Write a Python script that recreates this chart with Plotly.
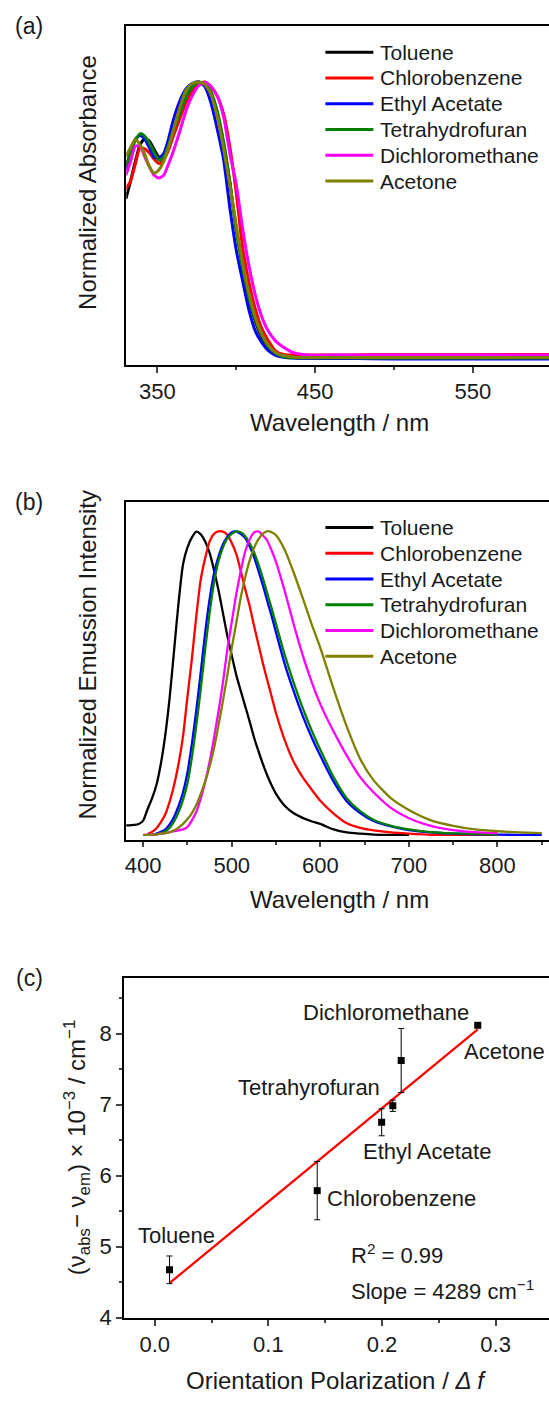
import numpy as np
import plotly.graph_objects as go

W, H = 549, 1405
FONT = "Arial, Liberation Sans, sans-serif"

solvents = ["Toluene", "Chlorobenzene", "Ethyl Acetate", "Tetrahydrofuran",
            "Dichloromethane", "Acetone"]
colors = ["#000000", "#FF0000", "#0000FF", "#008000", "#FF00FF", "#808000"]

# ---------------- (a) normalized absorbance ----------------
abs_nm = [330, 333, 336, 339, 342, 345, 348, 351, 354, 357, 360, 364, 368, 372,
          376, 380, 384, 388, 392, 396, 400, 404, 408, 412, 416, 420, 425, 430,
          436, 445, 470, 500, 550, 600]
abs_toluene = [0.575, 0.64, 0.71, 0.77, 0.792, 0.782, 0.752, 0.726, 0.732, 0.766,
               0.815, 0.88, 0.94, 0.977, 0.995, 0.99, 0.955, 0.88, 0.77, 0.63,
               0.465, 0.33, 0.215, 0.135, 0.078, 0.042, 0.018, 0.007, 0.003,
               0.001, 0.0, 0.0, 0.001, 0.001]
abs_chlorobenzene = [0.61, 0.64, 0.70, 0.76, 0.755, 0.74, 0.718, 0.702, 0.715,
                     0.75, 0.80, 0.86, 0.92, 0.96, 0.988, 0.996, 0.978, 0.945,
                     0.88, 0.76, 0.595, 0.40, 0.275, 0.18, 0.11, 0.067, 0.026,
                     0.014, 0.012, 0.012, 0.012, 0.013, 0.013, 0.014]
abs_ethyl_acetate = [0.68, 0.745, 0.79, 0.803, 0.79, 0.758, 0.725, 0.722, 0.738,
                     0.79, 0.858, 0.925, 0.97, 0.99, 0.997, 0.98, 0.92, 0.825,
                     0.715, 0.54, 0.39, 0.28, 0.175, 0.10, 0.058, 0.03, 0.011,
                     0.004, 0.001, 0.0, 0.0, -0.002, -0.002, -0.002]
abs_thf = [0.69, 0.745, 0.785, 0.81, 0.80, 0.775, 0.742, 0.714, 0.726, 0.765,
           0.82, 0.88, 0.94, 0.977, 0.996, 0.99, 0.96, 0.89, 0.78, 0.635, 0.46,
           0.33, 0.22, 0.142, 0.085, 0.045, 0.018, 0.006, 0.002, 0.002, 0.002,
           0.001, 0.001, 0.001]
abs_dcm = [0.66, 0.71, 0.765, 0.765, 0.726, 0.69, 0.66, 0.65, 0.66, 0.70, 0.745,
           0.815, 0.89, 0.945, 0.982, 0.995, 0.98, 0.945, 0.87, 0.736, 0.627,
           0.469, 0.335, 0.23, 0.153, 0.101, 0.062, 0.04, 0.021, 0.012, 0.012,
           0.012, 0.012, 0.012]
abs_acetone = [0.726, 0.76, 0.79, 0.77, 0.735, 0.69, 0.668, 0.68, 0.71, 0.76,
               0.82, 0.90, 0.965, 0.99, 0.996, 0.987, 0.95, 0.87, 0.755, 0.62,
               0.48, 0.345, 0.235, 0.15, 0.09, 0.05, 0.02, 0.01, 0.005, 0.003,
               0.003, 0.003, 0.003, 0.003]

# ---------------- (b) normalized emission ----------------
N = None
em_nm = [380, 390, 395, 400, 405, 410, 415, 420, 425, 430, 435, 440, 445, 450,
         455, 460, 465, 470, 475, 480, 485, 490, 495, 500, 505, 510, 515, 520,
         525, 530, 535, 540, 545, 550, 560, 570, 580, 590, 600, 615, 630, 645,
         660, 680, 700, 725, 750, 775, 800, 825, 850]
em_toluene = [0.031, 0.033, 0.036, 0.047, 0.085, 0.12, 0.165, 0.235, 0.33, 0.455,
              0.61, 0.765, 0.89, 0.945, 0.978, 0.997, 0.988, 0.965, 0.927, 0.87,
              0.805, 0.73, 0.655, 0.59, 0.527, 0.475, 0.425, 0.375, 0.322, 0.277,
              0.234, 0.196, 0.163, 0.135, 0.095, 0.071, 0.056, 0.045, 0.036,
              0.018, 0.008, 0.004, 0.001, 0.0, 0.0, N, N, N, N, N, N]
em_chlorobenzene = [N, N, N, N, 0.003, 0.01, 0.022, 0.042, 0.068, 0.11, 0.165,
                    0.235, 0.325, 0.455, 0.58, 0.72, 0.84, 0.91, 0.965, 0.99,
                    0.998, 0.997, 0.987, 0.96, 0.925, 0.87, 0.81, 0.755, 0.69,
                    0.628, 0.566, 0.51, 0.455, 0.40, 0.31, 0.24, 0.19, 0.15,
                    0.112, 0.07, 0.038, 0.023, 0.015, 0.008, 0.004, 0.0, 0.0,
                    0.0, 0.0, N, N]
em_ethyl_acetate = [N, N, N, N, N, 0.0, 0.004, 0.01, 0.018, 0.035, 0.06, 0.095,
                    0.14, 0.205, 0.30, 0.41, 0.535, 0.665, 0.775, 0.86, 0.915,
                    0.955, 0.98, 0.995, 0.998, 0.99, 0.977, 0.95, 0.915, 0.87,
                    0.822, 0.77, 0.72, 0.665, 0.56, 0.472, 0.392, 0.322, 0.26,
                    0.175, 0.11, 0.072, 0.046, 0.028, 0.016, 0.008, 0.004, 0.002,
                    0.001, 0.0, 0.0]
em_thf = [N, N, N, N, N, 0.0, 0.002, 0.006, 0.012, 0.024, 0.045, 0.075, 0.115,
          0.17, 0.255, 0.36, 0.48, 0.61, 0.73, 0.83, 0.90, 0.945, 0.975, 0.99,
          0.998, 0.995, 0.983, 0.96, 0.93, 0.89, 0.845, 0.795, 0.745, 0.693,
          0.59, 0.50, 0.418, 0.345, 0.28, 0.19, 0.12, 0.078, 0.05, 0.03, 0.018,
          0.009, 0.005, 0.003, 0.002, N, N]
em_dcm = [N, N, N, 0.0, 0.0, 0.001, 0.002, 0.004, 0.006, 0.009, 0.012, 0.015,
          0.018, 0.026, 0.048, 0.076, 0.12, 0.175, 0.24, 0.32, 0.405, 0.50, 0.61,
          0.70, 0.79, 0.865, 0.93, 0.97, 0.994, 0.998, 0.985, 0.968, 0.935,
          0.897, 0.80, 0.692, 0.592, 0.505, 0.43, 0.34, 0.26, 0.19, 0.14, 0.088,
          0.055, 0.03, 0.016, 0.009, 0.006, N, N]
em_acetone = [N, N, N, 0.0, 0.0, 0.001, 0.002, 0.004, 0.006, 0.009, 0.015, 0.024,
              0.036, 0.052, 0.072, 0.098, 0.135, 0.175, 0.225, 0.285, 0.36, 0.44,
              0.525, 0.615, 0.695, 0.778, 0.845, 0.90, 0.942, 0.972, 0.99, 0.999,
              0.995, 0.985, 0.936, 0.862, 0.78, 0.695, 0.615, 0.48, 0.355, 0.25,
              0.18, 0.12, 0.082, 0.048, 0.03, 0.018, 0.012, 0.008, 0.006]

# ---------------- (c) Lippert-Mataga ----------------
delta_f = [0.013, 0.143, 0.1997, 0.2095, 0.2169, 0.2843]
stokes_shift = [4.674, 5.789, 6.752, 6.985, 7.622, 8.118]
stokes_err = [0.195, 0.41, 0.19, 0.08, 0.45, 0.03]
point_labels = ["Toluene", "Chlorobenzene", "Ethyl Acetate", "Tetrahyrofuran",
                "Dichloromethane", "Acetone"]


def px(x):
    return x / W


def py(y):
    return 1 - y / H


abs_series = [abs_toluene, abs_chlorobenzene, abs_ethyl_acetate, abs_thf,
              abs_dcm, abs_acetone]
em_series = [em_toluene, em_chlorobenzene, em_ethyl_acetate, em_thf, em_dcm,
             em_acetone]

fig = go.Figure()

for name, c, ys in zip(solvents, colors, abs_series):
    fig.add_trace(go.Scatter(x=abs_nm, y=ys, mode="lines", name=name,
                             line=dict(color=c, width=3, shape="spline",
                                       smoothing=0.6),
                             xaxis="x", yaxis="y", showlegend=False))

for name, c, ys in zip(solvents, colors, em_series):
    fig.add_trace(go.Scatter(x=em_nm, y=ys, mode="lines", name=name,
                             line=dict(color=c, width=2.3, shape="spline",
                                       smoothing=0.6),
                             xaxis="x2", yaxis="y2", showlegend=False))

slope, intercept = np.polyfit(delta_f, stokes_shift, 1)
fit_x = np.array([min(delta_f), max(delta_f)])
fig.add_trace(go.Scatter(x=fit_x, y=slope * fit_x + intercept, mode="lines",
                         line=dict(color="#FF0000", width=2.3),
                         xaxis="x3", yaxis="y3", showlegend=False))
fig.add_trace(go.Scatter(x=delta_f, y=stokes_shift, mode="markers",
                         marker=dict(symbol="square", size=7, color="black"),
                         error_y=dict(type="data", array=stokes_err,
                                      thickness=1, width=3, color="black"),
                         xaxis="x3", yaxis="y3", showlegend=False))

axis_common = dict(showline=True, linecolor="black", linewidth=2,
                   showgrid=False, zeroline=False,
                   tickfont=dict(family=FONT, size=22, color="#1a1a1a"))

left = px(125.5)
fig.update_layout(
    width=W, height=H, margin=dict(l=0, r=0, t=0, b=0),
    paper_bgcolor="white", plot_bgcolor="white",
    xaxis=dict(axis_common, domain=[left, 1], range=[330.25, 598.3],
               anchor="y", mirror=True, ticks="outside", ticklen=6,
               tickwidth=2, tick0=350, dtick=100,
               minor=dict(ticks="outside", ticklen=3, tickwidth=1.5,
                          dtick=50, tick0=350)),
    yaxis=dict(axis_common, domain=[py(368.5), py(26.5)],
               range=[-0.0243, 1.197], anchor="x", showticklabels=False,
               ticks=""),
    xaxis2=dict(axis_common, domain=[left, 1], range=[380.9, 858.2],
                anchor="y2", mirror=True, ticks="outside", ticklen=5,
                tickwidth=2, tick0=400, dtick=100,
                minor=dict(ticks="outside", ticklen=3, tickwidth=1.5,
                           dtick=50, tick0=400)),
    yaxis2=dict(axis_common, domain=[py(847.7), py(506.3)],
                range=[-0.0163, 1.0958], anchor="x2", showticklabels=False,
                ticks=""),
    xaxis3=dict(axis_common, domain=[px(123.3), 1], range=[-0.027, 0.347],
                anchor="y3", mirror=True, ticks="outside", ticklen=6,
                tickwidth=2, tick0=0, dtick=0.1, tickformat=".1f",
                minor=dict(ticks="outside", ticklen=3, tickwidth=1.5,
                           dtick=0.05, tick0=0)),
    yaxis3=dict(axis_common, domain=[py(1330), py(986.7)], range=[4, 8.79],
                anchor="x3", ticks="outside", ticklen=6, tickwidth=2,
                tick0=4, dtick=1,
                minor=dict(ticks="outside", ticklen=3, tickwidth=1.5,
                           dtick=0.5, tick0=4)),
)

ann = []


def text(s, x, y, size=22, xanchor="center", angle=0):
    ann.append(dict(text=s, x=px(x), y=py(y), xref="paper", yref="paper",
                    showarrow=False, xanchor=xanchor, yanchor="middle",
                    textangle=angle,
                    font=dict(family=FONT, size=size, color="#1a1a1a")))


# panel letters
text("(a)", 28.5, 26.7, size=23)
text("(b)", 28.5, 506.7, size=23)
text("(c)", 28.5, 987, size=23)

# axis titles
text("Normalized Absorbance", 86.8, 184, size=24, angle=-90)
text("Wavelength / nm", 339, 426.7, size=24)
text("Normalized Emussion Intensity", 86.8, 661, size=24, angle=-90)
text("Wavelength / nm", 339, 908, size=24)
text("(ν<sub>abs</sub>− ν<sub>em</sub>) × 10<sup>−3</sup> / cm<sup>−1</sup>",
     76, 1158, size=24, angle=-90)
text("Orientation Polarization / <i>Δ f</i>", 336, 1393, size=24)

# legends for (a) and (b)
shapes = []
for top in (26.5, 506.3):
    for i, (name, c) in enumerate(zip(solvents, colors)):
        yy = top + 26.2 + i * 26.0
        shapes.append(dict(type="line", xref="paper", yref="paper",
                           x0=px(325), x1=px(373), y0=py(yy), y1=py(yy),
                           line=dict(color=c, width=3)))
        text(name, 378, yy, size=21, xanchor="left")

# point labels for (c)
label_pos = [(176, 1247.3), (401, 1210), (426.6, 1162.3), (309, 1097.3),
             (386, 1021.7), (504, 1061.7)]
for lbl, (lx, ly) in zip(point_labels, label_pos):
    text(lbl, lx, ly, size=22)

text("R<sup>2</sup> = 0.99", 349, 1265.7, size=22, xanchor="left")
text("Slope = 4289 cm<sup>−1</sup>", 349, 1302.3, size=22, xanchor="left")

fig.update_layout(annotations=ann, shapes=shapes)
fig.write_html("out.html")
